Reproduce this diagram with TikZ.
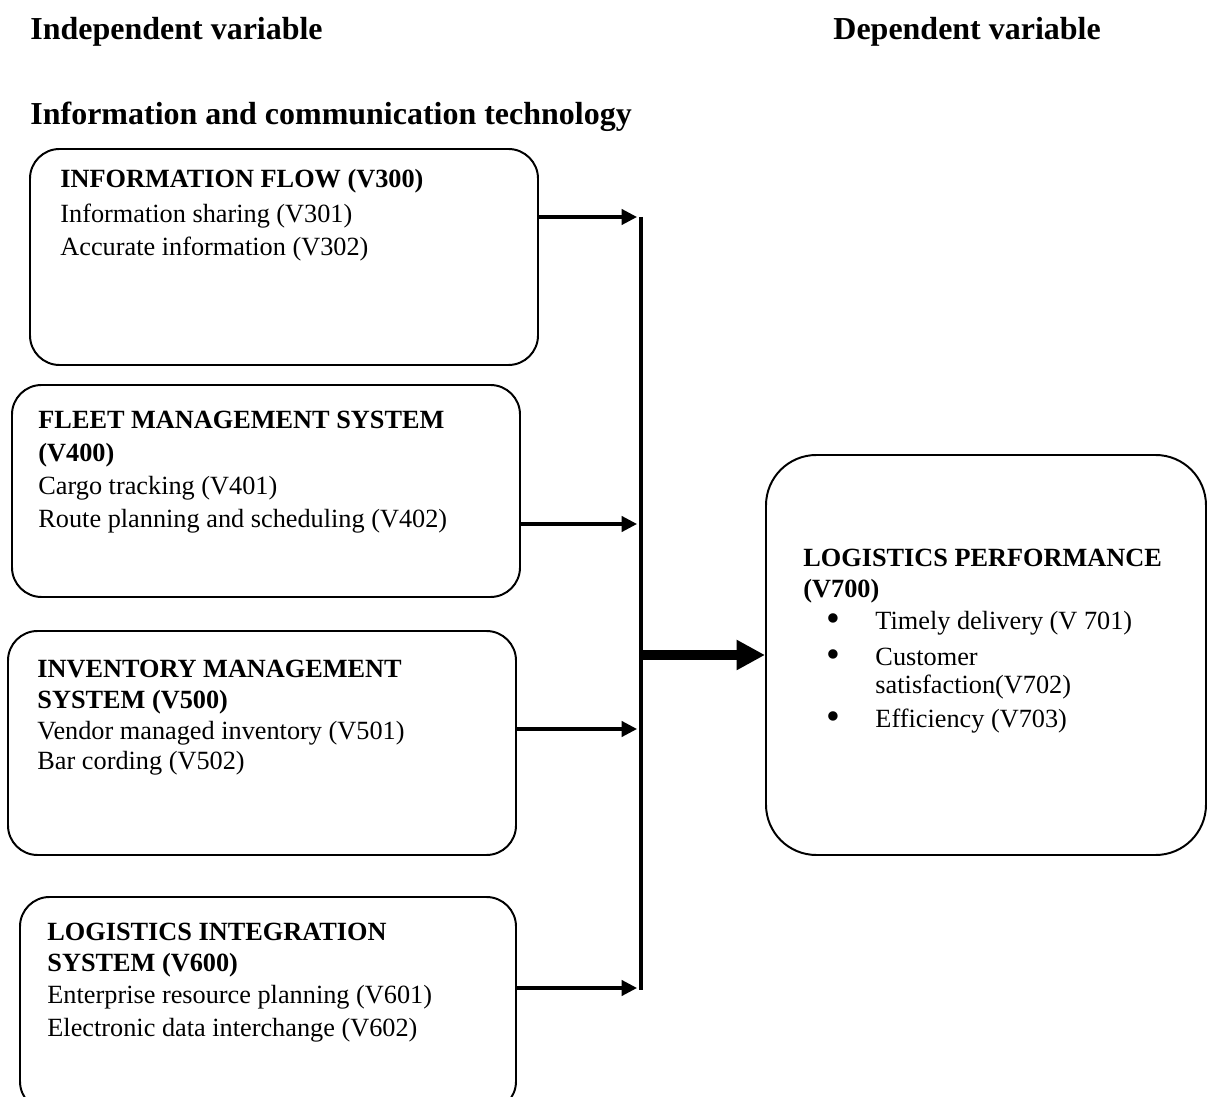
\documentclass[tikz,border=0pt]{standalone}
\usepackage{fontspec}
\setmainfont{Liberation Serif}
\usetikzlibrary{arrows.meta}
\newcommand{\bitem}{\hspace*{10.6pt}\makebox[22.3pt][l]{\raisebox{-0.9pt}{\scalebox{1.5}{\textbullet}}}}

\begin{document}
\begin{tikzpicture}[x=0.4566pt, y=-0.4566pt,
    box/.style={draw, line width=0.9pt, rounded corners=13.5pt, inner sep=0pt},
    txt/.style={anchor=north west, inner sep=0pt, align=left, font=\fontsize{12}{15}\selectfont},
    head/.style={anchor=west, inner sep=0pt, font=\fontsize{14.6}{17}\selectfont\bfseries},
    feed/.style={line width=1.4pt, -{Triangle[length=7pt,width=7pt]}}]
  \useasboundingbox (0,0) rectangle (1212,1097);
  \clip (0,0) rectangle (1212,1097);
  % titles
  \node[head] (indep) at (30,32) {Independent variable};
  \node[head] (dep) at (833,32) {Dependent variable};
  \node[head] (ict) at (30,117) {Information and communication technology};
  % boxes
  \node[box, minimum width={508*0.4566pt}, minimum height={216*0.4566pt}] (info) at (284,257) {};
  \node[box, minimum width={508*0.4566pt}, minimum height={212*0.4566pt}] (fleet) at (266,491) {};
  \node[box, minimum width={508*0.4566pt}, minimum height={224*0.4566pt}] (inv) at (262,743) {};
  \node[box, minimum width={496*0.4566pt}, minimum height={214*0.4566pt}] (integ) at (268,1004) {};
  \node[box, rounded corners=23pt, minimum width={440*0.4566pt}, minimum height={400*0.4566pt}] (perf) at (986,655) {};
  % box texts
  \node[txt] (infot) at (60,169) {\textbf{INFORMATION FLOW (V300)}\\[1pt]Information sharing (V301)\\Accurate information (V302)};
  \node[txt] (fleett) at (38,411) {\textbf{FLEET MANAGEMENT SYSTEM}\\\textbf{(V400)}\\Cargo tracking (V401)\\Route planning and scheduling (V402)};
  \node[txt] (invt) at (37,660) {\textbf{INVENTORY MANAGEMENT}\\[-1pt]\textbf{SYSTEM (V500)}\\[-1pt]Vendor managed inventory (V501)\\[-1pt]Bar cording (V502)};
  \node[txt] (integt) at (47,923) {\textbf{LOGISTICS INTEGRATION}\\[-1pt]\textbf{SYSTEM (V600)}\\[-0.5pt]Enterprise resource planning (V601)\\Electronic data interchange (V602)};
  \node[txt] (perft) at (803,549) {\textbf{LOGISTICS PERFORMANCE}\\[-1pt]\textbf{(V700)}\\[-0.5pt]\bitem Timely delivery (V 701)\\[1.5pt]\bitem Customer\\[-2pt]\hspace*{32.9pt}satisfaction(V702)\\[0.5pt]\bitem Efficiency (V703)};
  % connectors
  \coordinate (bustop) at (641,217);
  \coordinate (busbot) at (641,990);
  \coordinate (in1) at (637,217);
  \coordinate (in2) at (637,524);
  \coordinate (in3) at (637,729);
  \coordinate (in4) at (637,988);
  \coordinate (out) at (641,655);
  \draw[line width=1.8pt] (bustop) -- (busbot);
  \draw[feed] (info.east |- in1) -- (in1);
  \draw[feed] (fleet.east |- in2) -- (in2);
  \draw[feed] (inv.east |- in3) -- (in3);
  \draw[feed] (integ.east |- in4) -- (in4);
  \draw[line width=4.5pt, -{Triangle[length=13pt,width=13pt]}] (out) -- (perf.west);
\end{tikzpicture}
\end{document}
